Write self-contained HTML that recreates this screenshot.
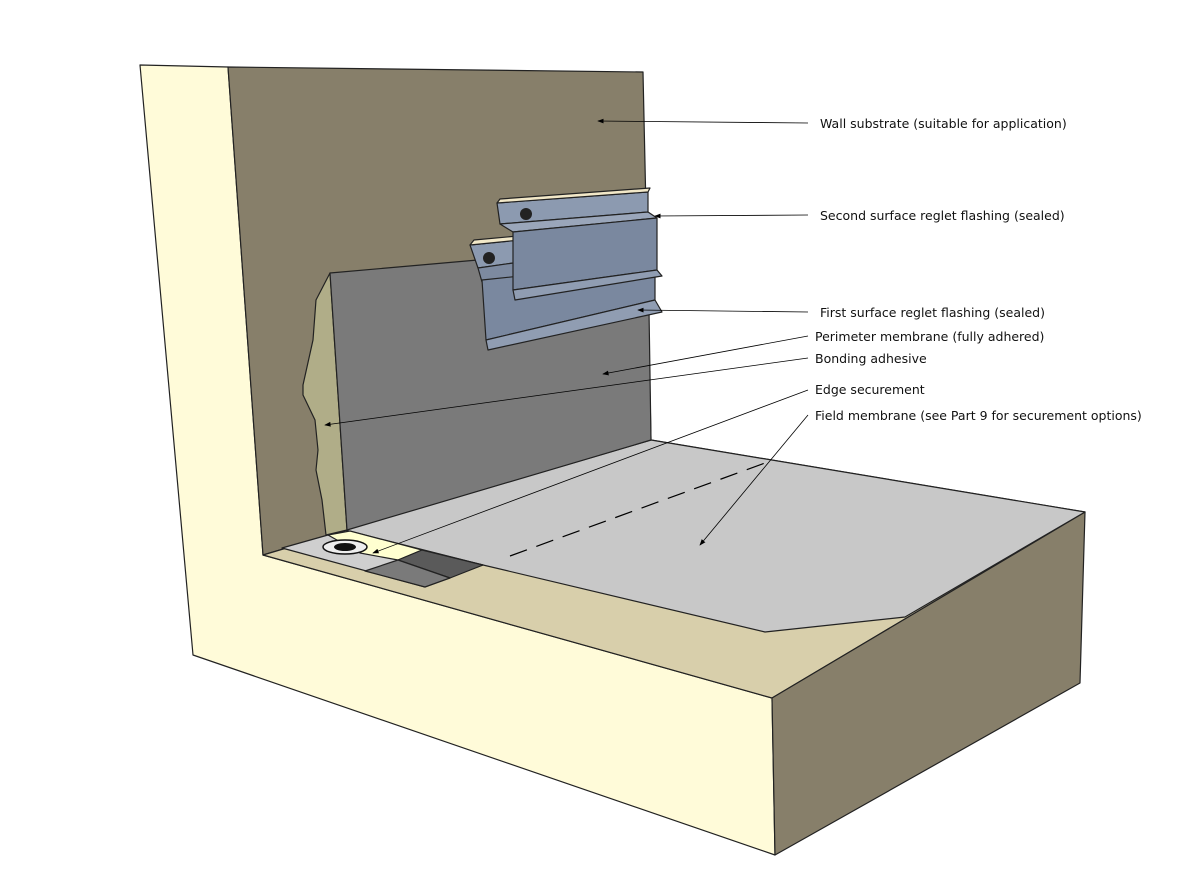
<!DOCTYPE html>
<html><head><meta charset="utf-8"><style>
html,body{margin:0;padding:0;background:#fff;}
svg{display:block}
text{font-family:"DejaVu Sans","Liberation Sans",sans-serif;font-size:12.5px;fill:#111}
</style></head><body>
<svg width="1200" height="880" viewBox="0 0 1200 880">
<defs><marker id="a" markerWidth="8" markerHeight="6" refX="7" refY="3" orient="auto"><path d="M0,0 L8,3 L0,6 z" fill="#000"/></marker></defs>
<g stroke="#222" stroke-width="1.2" stroke-linejoin="round">
<!-- cream front L -->
<polygon points="140,65 228,67 263,555 772,698 775,855 193,655" fill="#fffbd9"/>
<!-- wall inner face -->
<polygon points="228,67 643,72 651,440 263,555" fill="#877f6a"/>
<!-- slab top -->
<polygon points="263,555 651,440 1085,512 772,698" fill="#d8cfab"/>
<!-- right side -->
<polygon points="772,698 1085,512 1080,683 775,855" fill="#877f6a"/>
<!-- field membrane -->
<polygon points="345,530 651,440 1085,512 905,617 765,632 483,565" fill="#c8c8c8"/>
<polygon points="282,548 328,535 483,565 425,587" fill="#cfcfcf"/>
<polygon points="328,535 350,531 422,550 398,560 360,553" fill="#ffffd0"/>
<polygon points="398,560 422,550 483,565 450,578" fill="#5a5a5a"/>
<polygon points="365,571 398,560 450,578 425,587" fill="#7a7a7a"/>
<!-- adhesive -->
<polygon points="330,273 316,300 313,340 303,385 303,395 315,420 318,450 316,470 322,500 326,535 347,530" fill="#b0ad88"/>
<!-- perimeter membrane -->
<polygon points="330,273 648,245 651,440 347,530" fill="#7a7a7a"/>
<!-- flashing lower -->
<polygon points="470,245 520,240 520,262 478,268" fill="#8c9ab0"/>
<polygon points="470,245 520,240 518,236 474,240" fill="#f2e8c8"/>
<polygon points="478,268 520,262 520,300 482,282" fill="#7d8aa0"/>
<polygon points="482,280 655,262 655,300 486,340" fill="#7a889f"/>
<polygon points="486,340 655,300 662,312 488,350" fill="#909db2"/>
<!-- flashing upper -->
<polygon points="497,203 648,192 648,212 500,224" fill="#8c9ab0"/>
<polygon points="497,203 648,192 650,188 500,199" fill="#f2e8c8"/>
<polygon points="500,224 648,212 657,218 513,232" fill="#9aa6ba"/>
<polygon points="513,232 657,218 657,270 513,290" fill="#7a889f"/>
<polygon points="513,290 657,270 662,276 515,300" fill="#909db2"/>
</g>
<circle cx="526" cy="214" r="6" fill="#222"/><circle cx="489" cy="258" r="6" fill="#222"/>
<ellipse cx="345" cy="547" rx="22" ry="7" fill="#eee" stroke="#111" stroke-width="1.5"/>
<ellipse cx="345" cy="547" rx="11" ry="4" fill="#111"/>
<line x1="510" y1="556" x2="765" y2="463" stroke="#000" stroke-width="1.2" stroke-dasharray="18,10"/>
<g stroke="#000" stroke-width="0.8" marker-end="url(#a)">
<line x1="808" y1="123" x2="598" y2="121"/>
<line x1="808" y1="215" x2="655" y2="216"/>
<line x1="808" y1="312" x2="638" y2="310"/>
<line x1="808" y1="336" x2="603" y2="374"/>
<line x1="808" y1="358" x2="325" y2="425"/>
<line x1="808" y1="390" x2="373" y2="553"/>
<line x1="808" y1="415" x2="700" y2="545"/>
</g>
<text x="820" y="128">Wall substrate (suitable for application)</text>
<text x="820" y="220">Second surface reglet flashing (sealed)</text>
<text x="820" y="317">First surface reglet flashing (sealed)</text>
<text x="815" y="341">Perimeter membrane (fully adhered)</text>
<text x="815" y="363">Bonding adhesive</text>
<text x="815" y="394">Edge securement</text>
<text x="815" y="420">Field membrane (see Part 9 for securement options)</text>
</svg>
</body></html>
